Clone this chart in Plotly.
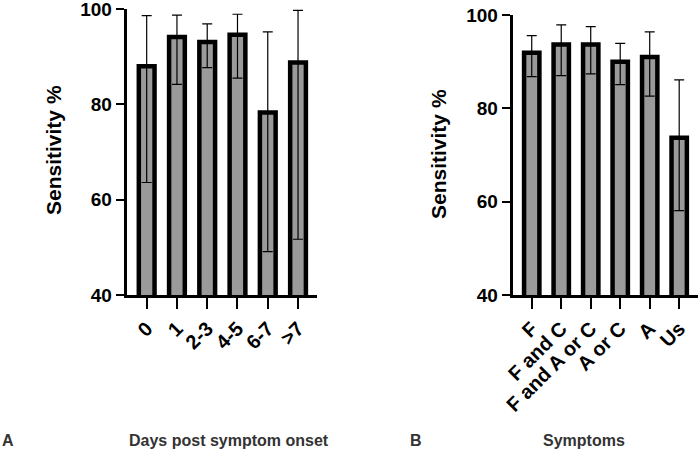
import plotly.graph_objects as go

# Panel A data
days = ["0", "1", "2-3", "4-5", "6-7", ">7"]
sens_days = [88.0, 94.1, 93.1, 94.6, 78.3, 88.8]
upper_days = [98.6, 98.7, 96.9, 98.9, 95.2, 99.7]
lower_days = [63.6, 84.2, 87.7, 85.5, 49.1, 51.7]

# Panel B data
symptoms = ["F", "F and C", "F and A or C", "A or C", "A", "Us"]
sens_sym = [91.9, 93.7, 93.7, 90.0, 91.0, 73.7]
upper_sym = [95.6, 97.9, 97.5, 93.9, 96.4, 86.1]
lower_sym = [86.8, 87.0, 87.4, 85.1, 82.6, 58.1]

FONT = "Arial, Liberation Sans, sans-serif"
BAR_FILL = "#9a9a9a"

def bar_trace(x, y, up, lo, xa, ya):
    return go.Bar(
        x=x, y=y, xaxis=xa, yaxis=ya,
        marker=dict(color=BAR_FILL, line=dict(color="black", width=4.5)),
        width=0.52,
        error_y=dict(type="data", symmetric=False,
                     array=[u - v for u, v in zip(up, y)],
                     arrayminus=[v - l for v, l in zip(y, lo)],
                     color="black", thickness=1.2, width=5),
        showlegend=False,
    )

fig = go.Figure()
fig.add_trace(bar_trace(days, sens_days, upper_days, lower_days, "x", "y"))
fig.add_trace(bar_trace(symptoms, sens_sym, upper_sym, lower_sym, "x2", "y2"))

xcommon = dict(type="category", showline=True, linecolor="black", linewidth=3,
               ticks="outside", ticklen=11, tickwidth=2, tickcolor="black",
               tickangle=-45,
               tickfont=dict(family=FONT, size=20, color="black", weight="bold"),
               showgrid=False, zeroline=False, automargin=False,
               ticklabeloverflow="allow")
ycommon = dict(range=[40, 100], tickvals=[40, 60, 80, 100], showline=True,
               linecolor="black", linewidth=3, ticks="outside", ticklen=8,
               tickwidth=2, tickcolor="black",
               tickfont=dict(family=FONT, size=19, color="black", weight="bold"),
               showgrid=False, zeroline=False, automargin=False,
               ticklabeloverflow="allow")

fig.update_layout(
    width=700, height=464,
    margin=dict(l=0, r=0, t=0, b=0),
    paper_bgcolor="white", plot_bgcolor="white",
    bargap=0.4,
    xaxis=dict(domain=[0.181, 0.453], range=[-0.66, 5.63], anchor="y", **xcommon),
    yaxis=dict(domain=[0.3642, 0.9806], anchor="x", **ycommon),
    xaxis2=dict(domain=[0.7325, 0.997], range=[-0.644, 5.634], anchor="y2", **xcommon),
    yaxis2=dict(domain=[0.3642, 0.9677], anchor="x2", **ycommon),
)

ann_font = dict(family=FONT, size=21, color="black")
fig.add_annotation(text="<b>Sensitivity %</b>", x=53 / 700, y=1 - 150 / 464,
                   xref="paper", yref="paper", textangle=-90, showarrow=False,
                   font=ann_font, xanchor="center", yanchor="middle")
fig.add_annotation(text="<b>Sensitivity %</b>", x=438 / 700, y=1 - 154 / 464,
                   xref="paper", yref="paper", textangle=-90, showarrow=False,
                   font=ann_font, xanchor="center", yanchor="middle")

lab_font = dict(family=FONT, size=16, color="#333333")
for txt, xc in [("A", 8), ("Days post symptom onset", 229), ("B", 416), ("Symptoms", 584)]:
    fig.add_annotation(text="<b>%s</b>" % txt, x=xc / 700, y=1 - 440 / 464,
                       xref="paper", yref="paper", showarrow=False, font=lab_font,
                       xanchor="center", yanchor="middle")

fig.write_html("out.html", config={"displayModeBar": False},
               post_script="document.body.style.margin='0';document.body.style.overflow='hidden';")
